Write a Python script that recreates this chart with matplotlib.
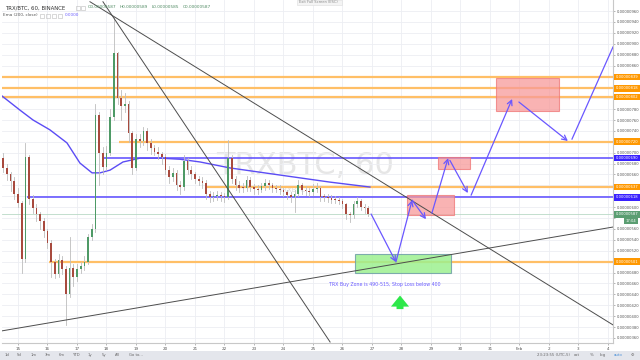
import matplotlib
matplotlib.use('Agg')
import matplotlib.pyplot as plt
from matplotlib.patches import Rectangle
from matplotlib.transforms import blended_transform_factory

# ---------------- data ----------------
first_open = 690
closes = [672, 660, 648, 625, 608, 505, 692, 615, 598, 588,
          575, 556, 535, 500, 478, 503, 486, 440, 488, 472,
          486, 492, 500, 545, 560, 770, 700, 674, 700, 766,
          883, 800, 785, 790, 736, 672, 725, 722, 740, 718,
          708, 702, 698, 692, 668, 655, 662, 640, 637, 685,
          668, 660, 652, 648, 644, 625, 619, 620, 622, 620,
          618, 690, 652, 640, 636, 635, 650, 637, 633, 632,
          638, 644, 640, 635, 634, 632, 628, 622, 618, 625,
          641, 632, 630, 628, 633, 635, 619, 618, 617, 614,
          613, 612, 605, 588, 585, 605, 612, 600, 598, 587]
highs = [700, 680, 665, 655, 635, 612, 718, 695, 622, 605,
         592, 580, 560, 540, 505, 515, 510, 492, 545, 495,
         495, 500, 510, 550, 570, 790, 775, 710, 712, 780,
         949, 885, 815, 810, 795, 740, 735, 735, 748, 745,
         725, 715, 710, 702, 698, 675, 672, 668, 648, 695,
         690, 675, 665, 658, 655, 650, 630, 628, 630, 628,
         626, 723, 695, 658, 648, 645, 658, 655, 642, 640,
         645, 652, 650, 645, 640, 640, 636, 632, 628, 632,
         650, 645, 638, 636, 642, 645, 638, 625, 624, 622,
         620, 618, 615, 608, 592, 612, 618, 615, 605, 602]
lows = [665, 650, 630, 615, 600, 479, 500, 605, 590, 575,
        560, 545, 525, 472, 470, 472, 478, 383, 435, 455,
        465, 480, 485, 495, 540, 555, 640, 660, 668, 695,
        760, 790, 760, 775, 720, 660, 668, 710, 715, 705,
        698, 695, 688, 680, 660, 645, 648, 632, 625, 632,
        660, 652, 645, 640, 635, 615, 610, 612, 614, 612,
        610, 615, 645, 632, 628, 628, 630, 630, 625, 625,
        628, 632, 633, 628, 627, 625, 620, 615, 610, 591,
        620, 625, 622, 620, 622, 628, 612, 612, 610, 608,
        607, 605, 598, 578, 573, 580, 600, 595, 590, 584]
candle_start_day = 14.5      # Jan 14, 12:00
candle_step_days = 0.125     # 3-hour candles

ema_days = [14.46, 15.07, 15.51, 16.08, 16.66, 17.10, 17.51, 17.78, 18.12,
            18.56, 19.14, 19.81, 20.49, 21.17, 22.19, 23.88, 25.58, 26.93]
ema_values = [804, 778, 760, 742, 718, 681, 663, 663, 668,
              683, 690, 690, 688, 683, 672, 659, 646, 637]

# horizontal levels: (price, start day, kind)
level_prices = [839, 818, 802, 720, 690, 637, 618, 500]
level_starts = [14.46, 14.46, 14.46, 18.42, 17.92, 21.34, 15.31, 16.05]
level_kinds = ['o', 'o', 'o', 'o', 'b', 'o', 'b', 'o']
level_labels = ['0.00000839', '0.00000818', '0.00000802', '0.00000720',
                '0.00000690', '0.00000637', '0.00000618', '0.00000501']
last_price = 587
last_label = '0.00000587'

# trend lines (day, price) endpoints
trend_lines = [((17.88, 977), (25.58, 352.6)),
               ((17.44, 977), (35.17, 384)),
               ((14.45, 373), (35.17, 563.6))]

# zones: (day0, day1, price0, price1)
buy_zone = (26.42, 29.67, 480, 514)
sell_zones = [(28.18, 29.78, 586, 622), (29.25, 30.32, 669.5, 691.6),
              (31.19, 33.34, 776, 836.5)]

# projected path segments (start, end, arrowhead)
path_segments = [((26.97, 587.5), (27.81, 499.4), True),
                 ((27.81, 499.4), (28.36, 613), True),
                 ((28.36, 613), (28.83, 578), True),
                 ((29.03, 589), (29.58, 690), True),
                 ((29.64, 686), (30.25, 626), True),
                 ((30.36, 622), (31.75, 798.5), True),
                 ((31.98, 793), (33.64, 721.5), True),
                 ((33.78, 725), (35.17, 894), False)]

price_ticks = list(range(360, 961, 20))
hidden_ticks = [840, 820, 800, 720, 640, 620, 580, 500]
day_ticks = list(range(15, 36))
day_labels = ['15', '16', '17', '18', '19', '20', '21', '22', '23', '24', '25',
              '26', '27', '28', '29', '30', '31', 'Feb', '2', '3', '4']

# ---------------- figure ----------------
W, H = 640, 360
fig = plt.figure(figsize=(6.4, 3.6), dpi=100)
fig.patch.set_facecolor('white')
ax = fig.add_axes([2 / W, 17 / H, 611 / W, 343 / H])
ax.set_xlim(14.458, 35.17)
ax.set_ylim(350.8, 980.2)
ax.set_facecolor('white')

for s in ['top', 'left']:
    ax.spines[s].set_visible(False)
for s in ['right', 'bottom']:
    ax.spines[s].set_color('#c8c8c8')
    ax.spines[s].set_linewidth(0.8)

ax.yaxis.tick_right()
ax.set_yticks(price_ticks)
ax.set_yticklabels(['' if t in hidden_ticks else '0.%08d' % t for t in price_ticks])
ax.set_xticks(day_ticks)
ax.set_xticklabels(day_labels)
ax.tick_params(axis='y', length=1.5, width=0.5, pad=1.5, labelsize=2.7,
               colors='#999999', labelcolor='#555555')
ax.tick_params(axis='x', length=1.5, width=0.5, pad=1.2, labelsize=3.0,
               colors='#999999', labelcolor='#555555')
ax.grid(True, color='#eceef3', lw=0.6, zorder=0)
ax.set_axisbelow(True)

# watermark
ax.text(21.72, 677, 'TRXBTC, 60', fontsize=22, color='#e6e6e6', va='center',
        ha='left', zorder=0.5)
ax.text(23.8, 631, 'TRXBTC', fontsize=5, color='#dddddd', va='center',
        ha='left', zorder=0.5)

# horizontal levels
for p, d0, k in zip(level_prices, level_starts, level_kinds):
    if k == 'o':
        ax.plot([d0, 35.17], [p, p], color='#ffbf66', lw=1.6, zorder=2,
                solid_capstyle='butt')
    else:
        ax.plot([d0, 35.17], [p, p], color='#5a49ff', lw=1.1, zorder=2,
                solid_capstyle='butt')
ax.plot([14.46, 35.17], [last_price, last_price], color='#b9d9c6', lw=0.6,
        zorder=2)

# EMA
ax.plot(ema_days, ema_values, color='#5b4cf5', lw=1.0, zorder=3)

# candles
opens = [first_open] + closes[:-1]
for i, (o, c, h, l) in enumerate(zip(opens, closes, highs, lows)):
    t = candle_start_day + i * candle_step_days
    ax.plot([t, t], [l, h], color='#bdbdbd', lw=0.6, zorder=3.5)
    up = c >= o
    col = '#4e9a66' if up else '#a84a3e'
    ax.bar(t, abs(c - o) if abs(c - o) > 2 else 2, bottom=min(o, c),
           width=candle_step_days * 0.45, color=col, edgecolor='none', lw=0,
           zorder=4)

# trend lines
for (a, b) in trend_lines:
    ax.plot([a[0], b[0]], [a[1], b[1]], color='#4d4d4d', lw=0.7, zorder=5)

# zones
d0, d1, p0, p1 = buy_zone
ax.add_patch(Rectangle((d0, p0), d1 - d0, p1 - p0, fc='#9cf08f', ec='#6f9fa6',
                       lw=0.8, alpha=0.85, zorder=2.5))
for (d0, d1, p0, p1) in sell_zones:
    ax.add_patch(Rectangle((d0, p0), d1 - d0, p1 - p0, fc='#f79a9a',
                           ec='#ef7575', lw=0.8, alpha=0.75, zorder=2.5))

# projected path
for (a, b, head) in path_segments:
    if head:
        ax.annotate('', xy=b, xytext=a, zorder=6,
                    arrowprops=dict(arrowstyle='->,head_length=0.35,head_width=0.18',
                                    color='#6a57ff', lw=0.9, shrinkA=0, shrinkB=0))
    else:
        ax.plot([a[0], b[0]], [a[1], b[1]], color='#6a57ff', lw=0.9, zorder=6)

ax.text(25.54, 459, 'TRX Buy Zone is 490-515, Stop Loss below 400', fontsize=3.4,
        color='#6a5cff', va='center', ha='left', zorder=6)
ax.annotate('', xy=(27.95, 438), xytext=(27.95, 413), zorder=6,
            arrowprops=dict(arrowstyle='simple,head_width=1.3,head_length=0.8,tail_width=0.5',
                            color='#2ee84a', lw=0, shrinkA=0, shrinkB=0))

# highlighted price labels
tr = blended_transform_factory(ax.transAxes, ax.transData)
for p, lab, k in zip(level_prices, level_labels, level_kinds):
    ax.text(1.0045, p, lab, transform=tr, fontsize=2.7, color='white',
            va='center', ha='left', clip_on=False, zorder=10,
            bbox=dict(boxstyle='square,pad=0.35', fc='#ff9800' if k == 'o' else '#3a22ff',
                      ec='none'))
ax.text(1.0045, last_price, last_label, transform=tr, fontsize=2.7, color='white',
        va='center', ha='left', clip_on=False, zorder=10,
        bbox=dict(boxstyle='square,pad=0.35', fc='#5b9e72', ec='none'))
ax.text(1.0205, 575, '17:04', transform=tr, fontsize=2.7, color='white',
        va='center', ha='left', clip_on=False, zorder=10,
        bbox=dict(boxstyle='square,pad=0.35', fc='#5b9e72', ec='none'))


def ft(x, y, s, **kw):
    fig.text(x / W, 1 - y / H, s, va='center', ha='left', **kw)


# header
ft(5, 7.5, 'TRX/BTC, 60, BINANCE', fontsize=3.9, color='#333333')
ft(88, 7.5, 'O0.00000587', fontsize=3.1, color='#4f8a62')
ft(120, 7.5, 'H0.00000589', fontsize=3.1, color='#4f8a62')
ft(152, 7.5, 'L0.00000585', fontsize=3.1, color='#4f8a62')
ft(183, 7.5, 'C0.00000587', fontsize=3.1, color='#4f8a62')
ft(3, 15.3, 'Ema (200, close)', fontsize=3.0, color='#555555')
ft(65, 15.3, '0.0000', fontsize=3.0, color='#6a5cff')
for bx in [40, 46, 52, 58]:
    fig.add_artist(Rectangle((bx / W, 1 - 17.5 / H), 4 / W, 4 / H,
                             transform=fig.transFigure, fc='none', ec='#bbbbbb', lw=0.4))
for bx in [76, 81]:
    fig.add_artist(Rectangle((bx / W, 1 - 9.5 / H), 4 / W, 4 / H,
                             transform=fig.transFigure, fc='none', ec='#bbbbbb', lw=0.4))
fig.add_artist(Rectangle((297 / W, 1 - 4.5 / H), 45 / W, 5 / H,
                         transform=fig.transFigure, fc='#f4f4f4', ec='#dddddd', lw=0.4))
ft(299, 1.8, 'Exit Full Screen (ESC)', fontsize=2.6, color='#888888')

# bottom toolbar
fig.add_artist(Rectangle((0, 0), 1, 9.5 / H, transform=fig.transFigure,
                         fc='#e4e6ec', ec='none'))
for x, s in [(5, '1d'), (17, '5d'), (31, '1m'), (45, '3m'), (59, '6m'),
             (73, 'YTD'), (88, '1y'), (102, '5y'), (115, 'All'), (129, 'Go to...')]:
    ft(x, 355, s, fontsize=2.7, color='#666666')
for x, s, c in [(537, '23:23:55 (UTC-5)', '#666666'), (574, 'ext', '#666666'),
                (590, '%', '#666666'), (600, 'log', '#666666'),
                (614, 'auto', '#4a90d9'), (631, '\u2699', '#666666')]:
    ft(x, 355, s, fontsize=2.8, color=c)

fig.savefig('out.png', dpi=100, facecolor='white')
